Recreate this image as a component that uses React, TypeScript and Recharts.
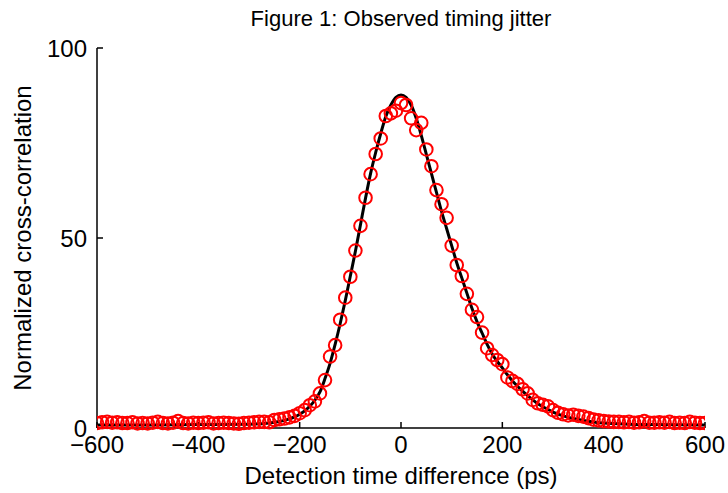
import {
  ComposedChart,
  Line,
  Scatter,
  XAxis,
  YAxis,
} from "recharts";

// measured cross-correlation (red circles), 10 ps bins
const measuredDelay = [
  -600, -590, -580, -570, -560, -550, -540, -530, -520, -510, -500, -490, -480, -470, -460, -450,
  -440, -430, -420, -410, -400, -390, -380, -370, -360, -350, -340, -330, -320, -310, -300, -290,
  -280, -270, -260, -250, -240, -230, -220, -210, -200, -190, -180, -170, -160, -150, -140, -130,
  -120, -110, -100, -90, -80, -70, -60, -50, -40, -30, -20, -10, 0, 10, 20, 30, 40, 50, 60, 70, 80,
  90, 100, 110, 120, 130, 140, 150, 160, 170, 180, 190, 200, 210, 220, 230, 240, 250, 260, 270, 280,
  290, 300, 310, 320, 330, 340, 350, 360, 370, 380, 390, 400, 410, 420, 430, 440, 450, 460, 470, 480,
  490, 500, 510, 520, 530, 540, 550, 560, 570, 580, 590, 600,
];
const measuredValue = [
  1.3, 1.5, 1.6, 1.4, 1.5, 1.3, 1.3, 1.5, 1.2, 1.3, 1.2, 1.4, 1.6, 1.3, 1.2, 1.4,
  1.8, 1.3, 1.2, 1.4, 1.3, 1.4, 1.5, 1.2, 1.3, 1.4, 1.3, 1.2, 1.1, 1.3, 1.4, 1.5,
  1.6, 1.6, 1.5, 2.1, 2.3, 2.5, 2.8, 3.2, 3.9, 4.7, 6.0, 7.0, 9.1, 12.6, 18.8, 21.8,
  28.5, 34.3, 39.8, 46.7, 53.2, 60.6, 66.8, 72.1, 76.2, 82.1, 82.8, 83.5, 85.5, 85.0, 81.5, 78.4, 80.3, 73.3, 68.9, 62.6, 58.9,
  55.3, 48.0, 42.9, 40.0, 35.3, 31.1, 29.2, 25.1, 21.0, 19.2, 17.9, 16.8, 13.3, 12.4, 11.6, 10.2, 9.1, 7.4, 6.5, 6.1,
  5.7, 4.7, 4.0, 3.6, 3.3, 3.5, 3.2, 3.0, 2.6, 2.2, 2.0, 1.8, 1.7, 1.6, 1.6, 1.5, 1.6, 1.4, 1.5, 1.8,
  1.4, 1.4, 1.5, 1.4, 1.6, 1.3, 1.4, 1.3, 1.6, 1.4, 1.3, 1.3,
];

// fitted curve (black line)
const fitDelay = [
  -600, -500, -400, -300, -260, -240, -230, -220, -210, -200, -190, -180, -170, -160, -150, -140,
  -130, -120, -110, -100, -90, -80, -70, -60, -50, -40, -30, -20, -10, 0, 10, 20, 30, 40, 50, 60,
  70, 80, 90, 100, 110, 120, 130, 140, 150, 160, 170, 180, 190, 200, 210, 220, 230, 240, 250, 260,
  270, 280, 290, 300, 320, 340, 360, 380, 400, 450, 500, 600,
];
const fitValue = [
  0.8, 0.8, 0.9, 1.0, 1.3, 1.7, 2.0, 2.4, 2.9, 3.6, 4.5, 5.7, 7.3, 9.5, 13, 17,
  22, 27.5, 33.5, 40, 46.5, 53.5, 60.5, 67, 72.5, 77.5, 82, 85, 87, 87.6, 87, 85, 81.5, 77, 72, 67,
  62, 57, 52.5, 48, 43.5, 39.5, 35.5, 31.5, 28, 25, 22, 19.5, 17.5, 15.8, 14, 12.4, 11, 9.7, 8.5, 7.4,
  6.4, 5.6, 4.9, 4.2, 3.2, 2.5, 2.0, 1.6, 1.3, 1.0, 0.9, 0.8,
];

const xTicks = [-600, -400, -200, 0, 200, 400, 600];
const yTicks = [0, 50, 100];

const measured = measuredDelay.map((x, i) => ({ x, y: measuredValue[i] }));
const fit = fitDelay.map((x, i) => ({ x, y: fitValue[i] }));

const font = "'Liberation Sans', Arial, Helvetica, sans-serif";

const OpenCircle = (props: any) => (
  <circle cx={props.cx} cy={props.cy} r={6.3} fill="none" stroke="#ff0000" strokeWidth={2} />
);

const App = () => {
  return (
    <div style={{ position: "relative", width: 728, height: 493, fontFamily: font }}>
      <style>{"body{margin:0}"}</style>
      <div
        style={{
          position: "absolute",
          top: 8,
          left: 97,
          width: 608,
          textAlign: "center",
          fontSize: 22,
          lineHeight: 1,
          color: "#000",
        }}
      >
        Figure 1: Observed timing jitter
      </div>
      <ComposedChart width={728} height={493} margin={{ top: 48, right: 23, bottom: 0, left: 37 }}>
        <XAxis
          xAxisId="b"
          type="number"
          dataKey="x"
          domain={[-600, 600]}
          ticks={xTicks}
          allowDataOverflow
          height={65}
          tickSize={-6}
          tickMargin={14}
          stroke="#000"
          strokeWidth={1.5}
          tick={{ fill: "#000", fontSize: 24, fontFamily: font }}
          tickFormatter={(v: number) => (v < 0 ? "\u2212" + Math.abs(v) : String(v))}
          label={{
            value: "Detection time difference (ps)",
            position: "insideBottom",
            offset: 9,
            fill: "#000",
            fontSize: 24,
            fontFamily: font,
          }}
        />
        <XAxis
          xAxisId="t"
          orientation="top"
          type="number"
          dataKey="x"
          domain={[-600, 600]}
          height={0}
          tick={false}
          tickLine={false}
          stroke="#000"
          strokeWidth={1.5}
        />
        <YAxis
          yAxisId="l"
          type="number"
          domain={[0, 100]}
          ticks={yTicks}
          width={60}
          tickSize={-6}
          tickMargin={16}
          stroke="#000"
          strokeWidth={1.5}
          tick={{ fill: "#000", fontSize: 24, fontFamily: font }}
          label={{
            value: "Normalized cross-correlation",
            angle: -90,
            position: "insideLeft",
            offset: -15,
            fill: "#000",
            fontSize: 24,
            fontFamily: font,
            style: { textAnchor: "middle" },
          }}
        />
        <YAxis
          yAxisId="r"
          orientation="right"
          type="number"
          domain={[0, 100]}
          width={0}
          tick={false}
          tickLine={false}
          stroke="#000"
          strokeWidth={1.5}
        />
        <Line
          xAxisId="b"
          yAxisId="l"
          data={fit}
          dataKey="y"
          type="monotone"
          stroke="#000"
          strokeWidth={3}
          dot={false}
          activeDot={false}
          isAnimationActive={false}
        />
        <Scatter
          xAxisId="b"
          yAxisId="l"
          data={measured}
          dataKey="y"
          shape={OpenCircle}
          isAnimationActive={false}
        />
      </ComposedChart>
    </div>
  );
};

export default App;
